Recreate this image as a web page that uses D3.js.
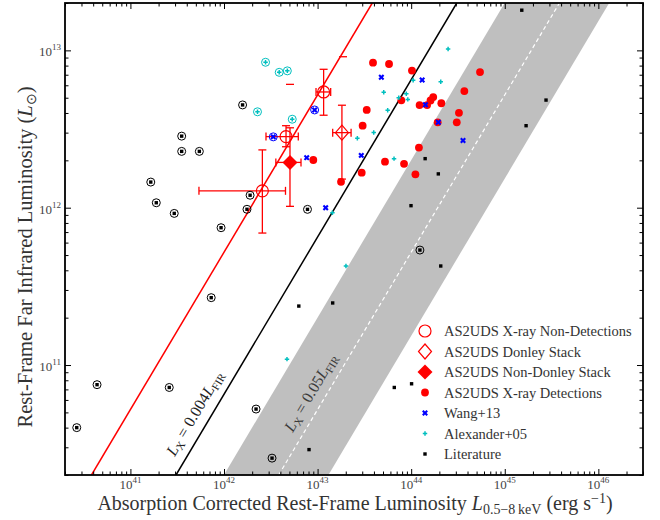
<!DOCTYPE html>
<html>
<head>
<meta charset="utf-8">
<script src="https://cdn.jsdelivr.net/npm/d3@7"></script>
<style>
  body { margin: 0; background: #fff; }
</style>
</head>
<body>
<div id="chart"></div>
<script>
// axis limits and ticks
const xDomain = [2e40, 3e46];
const yDomain = [2e10, 2e13];
const xTicks = [1e41, 1e42, 1e43, 1e44, 1e45, 1e46];
const yTicks = [1e11, 1e12, 1e13];

// L_X / L_FIR relations (L_FIR in solar units)
const LSUN = 3.839e33;
const ratioRed = 0.0005;
const ratioBlack = 0.004;
const ratioDashed = 0.05;
const bandRatios = [0.013, 0.17];

// AS2UDS stacks: [Lx, Lfir, xlo, xhi, ylo, yhi]
const nonDetections = [
  [2.57e42, 1.28e12, 5.4e41, 4.54e42, 6.9e11, 2.33e12],
  [4.6e42, 2.83e12, 2.81e42, 6.22e42, 2.44e12, 3.32e12],
  [1.16e43, 5.44e12, 9.62e42, 1.38e43, 3.87e12, 7.58e12]
];
const donleyStack = [[1.82e43, 3.0e12, 1.45e43, 2.28e43, 1.52e12, 4.48e12]];
const nonDonleyStack = [[5.07e42, 1.94e12, 3.58e42, 6.65e42, 1.02e12, 3.22e12]];
const dashMarks = [[5.07e42, 6.08e12], [1.87e43, 9.11e12]];

// AS2UDS X-ray detections
const detections = [
  [3.91e43, 8.35e12], [5.8e43, 8.19e12], [1.02e44, 7.44e12], [5.44e44, 7.28e12],
  [3.7e44, 5.51e12], [7.85e43, 4.81e12], [1.23e44, 4.49e12], [1.48e44, 4.49e12],
  [1.61e44, 4.8e12], [1.72e44, 5.05e12], [2.1e44, 4.61e12], [3.35e43, 4.18e12],
  [3.03e43, 3.32e12], [3.24e44, 4.01e12], [3.07e44, 3.49e12], [1.92e44, 3.49e12],
  [1.21e44, 2.41e12], [5.25e43, 1.96e12], [8.39e43, 1.9e12], [1.11e44, 1.63e12],
  [2.96e43, 1.67e12], [1.78e43, 1.46e12], [9.0e42, 2.01e12]
];

// Wang+13
const wang = [
  [4.8e43, 6.74e12], [1.31e44, 6.48e12], [1.42e44, 4.51e12], [1.95e44, 3.49e12],
  [3.58e44, 2.67e12], [2.93e43, 2.15e12], [7.65e42, 2.08e12], [1.22e43, 1.0e12],
  [9.3e42, 4.18e12], [3.36e42, 2.82e12]
];
const wangCircled = [[9.3e42, 4.18e12], [3.36e42, 2.82e12]];

// Alexander+05
const alexander = [
  [2.48e44, 1.02e13], [1.05e44, 6.45e12], [2.07e44, 6.32e12], [5.09e43, 5.41e12],
  [8.87e43, 5.3e12], [7.36e43, 5.0e12], [9.2e43, 4.88e12], [5.61e43, 4.16e12],
  [3.98e43, 3.01e12], [2.66e43, 2.76e12], [6.56e43, 2.05e12], [1.44e43, 9.29e11],
  [2.01e43, 4.26e11], [4.71e42, 1.09e11],
  [2.78e42, 8.4e12], [3.89e42, 7.25e12], [4.75e42, 7.41e12], [2.28e42, 4.07e12],
  [5.36e42, 3.65e12]
];
const alexanderCircled = [
  [2.78e42, 8.4e12], [3.89e42, 7.25e12], [4.75e42, 7.41e12], [2.28e42, 4.07e12],
  [5.36e42, 3.65e12]
];

// Literature
const literature = [
  [1.52e45, 1.8e13], [2.76e45, 4.83e12], [1.69e45, 3.32e12], [1.41e44, 2.05e12],
  [1.95e44, 1.64e12], [9.96e43, 1.03e12], [2.07e44, 4.26e11], [1.45e43, 2.48e11],
  [6.3e42, 2.37e11], [6.6e43, 7.2e10], [1.01e44, 7.6e10], [8.1e42, 2.9e10],
  [2.67e40, 4.0e10], [4.4e40, 7.5e10], [2.6e41, 7.2e10], [7.3e41, 2.68e11],
  [2.2e42, 5.25e10], [3.26e42, 2.56e10], [1.24e44, 5.38e11], [7.8e42, 9.76e11],
  [3.53e41, 2.85e12], [3.53e41, 2.28e12], [5.45e41, 2.28e12], [1.65e41, 1.455e12],
  [1.89e41, 1.075e12], [2.94e41, 9.2e11], [9.3e41, 7.46e11], [1.58e42, 4.5e12],
  [1.9e42, 1.2e12], [1.76e42, 9.77e11]
];
const literatureCircled = [
  [2.67e40, 4.0e10], [4.4e40, 7.5e10], [2.6e41, 7.2e10], [7.3e41, 2.68e11],
  [2.2e42, 5.25e10], [3.26e42, 2.56e10], [1.24e44, 5.38e11], [7.8e42, 9.76e11],
  [3.53e41, 2.85e12], [3.53e41, 2.28e12], [5.45e41, 2.28e12], [1.65e41, 1.455e12],
  [1.89e41, 1.075e12], [2.94e41, 9.2e11], [9.3e41, 7.46e11], [1.58e42, 4.5e12],
  [1.9e42, 1.2e12], [1.76e42, 9.77e11]
];

const legendLabels = [
  "AS2UDS X-ray Non-Detections", "AS2UDS Donley Stack", "AS2UDS Non-Donley Stack",
  "AS2UDS X-ray Detections", "Wang+13", "Alexander+05", "Literature"
];

const RED = "#ff0000", BLUE = "#0000ff", CYAN = "#00bfbf";
const width = 660, height = 520;
const mLeft = 65, mRight = 643, mTop = 3, mBottom = 475;

const svg = d3.select("#chart").append("svg")
  .attr("width", width).attr("height", height)
  .attr("font-family", "'Liberation Serif', 'Times New Roman', serif");

const x = d3.scaleLog().domain(xDomain).range([mLeft, mRight]);
const y = d3.scaleLog().domain(yDomain).range([mBottom, mTop]);

svg.append("defs").append("clipPath").attr("id", "plotclip")
  .append("rect").attr("x", mLeft).attr("y", mTop)
  .attr("width", mRight - mLeft).attr("height", mBottom - mTop);

const plot = svg.append("g").attr("clip-path", "url(#plotclip)");

const relation = r => yDomain.map(v => [r * v * LSUN, v]);
const line = d3.line().x(d => x(d[0])).y(d => y(d[1]));

// gray band
const bandPts = relation(bandRatios[0]).concat(relation(bandRatios[1]).reverse());
plot.append("path").attr("d", line(bandPts) + "Z").attr("fill", "#bfbfbf");

plot.append("path").attr("d", line(relation(ratioDashed)))
  .attr("fill", "none").attr("stroke", "#fff").attr("stroke-width", 1.2)
  .attr("stroke-dasharray", "4,3");
plot.append("path").attr("d", line(relation(ratioBlack)))
  .attr("fill", "none").attr("stroke", "#000").attr("stroke-width", 1.5);
plot.append("path").attr("d", line(relation(ratioRed)))
  .attr("fill", "none").attr("stroke", RED).attr("stroke-width", 1.5);

// rotated relation labels
const slopeAngle = Math.atan2(y(1e12) - y(1e11), x(1e12) - x(1e11)) * 180 / Math.PI;
function relationLabel(r, lfir, dx, num, color) {
  const px = x(r * lfir * LSUN) + dx, py = y(lfir);
  const t = svg.append("text")
    .attr("transform", `translate(${px},${py}) rotate(${slopeAngle})`)
    .attr("font-size", 16).attr("fill", color);
  t.append("tspan").attr("font-style", "italic").text("L");
  t.append("tspan").attr("font-size", 11).attr("dy", 3).text("X");
  t.append("tspan").attr("dy", -3).text(" = " + num);
  t.append("tspan").attr("font-style", "italic").text("L");
  t.append("tspan").attr("font-size", 11).attr("dy", 3).text("FIR");
}
relationLabel(ratioBlack, 2.6e10, -12, "0.004", "#222");
relationLabel(ratioDashed, 3.7e10, -11, "0.05", "#3a3a3a");

// error bars
const cap = 4;
function errorBars(data) {
  const g = plot.append("g").attr("stroke", RED).attr("stroke-width", 1.3).attr("fill", "none");
  data.forEach(d => {
    const cx = x(d[0]), cy = y(d[1]);
    const x0 = x(d[2]), x1 = x(d[3]), y0 = y(d[4]), y1 = y(d[5]);
    g.append("line").attr("x1", x0).attr("x2", x1).attr("y1", cy).attr("y2", cy);
    g.append("line").attr("x1", x0).attr("x2", x0).attr("y1", cy - cap).attr("y2", cy + cap);
    g.append("line").attr("x1", x1).attr("x2", x1).attr("y1", cy - cap).attr("y2", cy + cap);
    g.append("line").attr("x1", cx).attr("x2", cx).attr("y1", y0).attr("y2", y1);
    g.append("line").attr("x1", cx - cap).attr("x2", cx + cap).attr("y1", y0).attr("y2", y0);
    g.append("line").attr("x1", cx - cap).attr("x2", cx + cap).attr("y1", y1).attr("y2", y1);
  });
}
errorBars(nonDetections);
errorBars(donleyStack);
errorBars(nonDonleyStack);

plot.append("g").selectAll("line").data(dashMarks).join("line")
  .attr("x1", d => x(d[0]) - 4).attr("x2", d => x(d[0]) + 4)
  .attr("y1", d => y(d[1])).attr("y2", d => y(d[1]))
  .attr("stroke", RED).attr("stroke-width", 1.3);

// marker shapes
const diamond = (w, h) => `M0,${-h}L${w},0L0,${h}L${-w},0Z`;
const shapes = {
  openCircle: g => g.append("circle").attr("r", 6).attr("fill", "none").attr("stroke", RED).attr("stroke-width", 1.2),
  openDiamond: g => g.append("path").attr("d", diamond(6.5, 7.5)).attr("fill", "none").attr("stroke", RED).attr("stroke-width", 1.2),
  fullDiamond: g => g.append("path").attr("d", diamond(7.5, 7.5)).attr("fill", RED),
  dot: g => g.append("circle").attr("r", 3.9).attr("fill", RED),
  wang: g => g.append("path").attr("d", d3.symbol(d3.symbolCross, 22)()).attr("transform", "rotate(45)").attr("fill", BLUE),
  alex: g => g.append("path").attr("d", d3.symbol(d3.symbolCross, 11)()).attr("fill", CYAN),
  lit: g => g.append("rect").attr("x", -1.7).attr("y", -1.7).attr("width", 3.4).attr("height", 3.4).attr("fill", "#000")
};

function scatter(data, shape) {
  plot.append("g").selectAll("g").data(data).join("g")
    .attr("transform", d => `translate(${x(d[0])},${y(d[1])})`)
    .each(function() { shapes[shape](d3.select(this)); });
}
function rings(data, color) {
  plot.append("g").selectAll("circle").data(data).join("circle")
    .attr("cx", d => x(d[0])).attr("cy", d => y(d[1])).attr("r", 4)
    .attr("fill", "none").attr("stroke", color).attr("stroke-width", 1);
}

scatter(nonDetections, "openCircle");
scatter(donleyStack, "openDiamond");
scatter(nonDonleyStack, "fullDiamond");
scatter(detections, "dot");
scatter(wang, "wang");
scatter(alexander, "alex");
scatter(literature, "lit");
rings(wangCircled, BLUE);
rings(alexanderCircled, CYAN);
rings(literatureCircled, "#000");

// axes: inward ticks on all four sides
function minorTicks(domain) {
  const out = [];
  const lo = Math.floor(Math.log10(domain[0])), hi = Math.ceil(Math.log10(domain[1]));
  for (let e = lo; e < hi; e++) {
    for (let k = 2; k <= 9; k++) {
      const v = k * Math.pow(10, e);
      if (v >= domain[0] && v <= domain[1]) out.push(v);
    }
  }
  return out;
}
const xMinor = minorTicks(xDomain), yMinor = minorTicks(yDomain);

function axisGroup(axis, tx, ty) {
  const g = svg.append("g").attr("transform", `translate(${tx},${ty})`).call(axis);
  g.select(".domain").remove();
  g.selectAll("line").attr("stroke", "#000").attr("stroke-width", 1);
  g.selectAll("text").remove();
}
axisGroup(d3.axisBottom(x).tickValues(xTicks).tickSize(-6), 0, mBottom);
axisGroup(d3.axisBottom(x).tickValues(xMinor).tickSize(-3.5), 0, mBottom);
axisGroup(d3.axisTop(x).tickValues(xTicks).tickSize(-6), 0, mTop);
axisGroup(d3.axisTop(x).tickValues(xMinor).tickSize(-3.5), 0, mTop);
axisGroup(d3.axisLeft(y).tickValues(yTicks).tickSize(-6), mLeft, 0);
axisGroup(d3.axisLeft(y).tickValues(yMinor).tickSize(-3.5), mLeft, 0);
axisGroup(d3.axisRight(y).tickValues(yTicks).tickSize(-6), mRight, 0);
axisGroup(d3.axisRight(y).tickValues(yMinor).tickSize(-3.5), mRight, 0);

svg.append("rect").attr("x", mLeft).attr("y", mTop)
  .attr("width", mRight - mLeft).attr("height", mBottom - mTop)
  .attr("fill", "none").attr("stroke", "#000").attr("stroke-width", 1.8);

// tick labels
function powLabel(sel, v) {
  sel.append("tspan").text("10");
  sel.append("tspan").attr("font-size", 9).attr("dy", -6).text(Math.round(Math.log10(v)));
}
svg.append("g").selectAll("text").data(xTicks).join("text")
  .attr("x", d => x(d)).attr("y", 489).attr("text-anchor", "middle")
  .attr("font-size", 13).attr("fill", "#444")
  .each(function(d) { powLabel(d3.select(this), d); });
svg.append("g").selectAll("text").data(yTicks).join("text")
  .attr("x", mLeft - 4).attr("y", d => y(d) + 6).attr("text-anchor", "end")
  .attr("font-size", 13).attr("fill", "#444")
  .each(function(d) { powLabel(d3.select(this), d); });

// axis titles
const xt = svg.append("text").attr("x", (mLeft + mRight) / 2 + 1).attr("y", 510)
  .attr("text-anchor", "middle").attr("font-size", 20).attr("fill", "#333");
xt.append("tspan").text("Absorption Corrected Rest-Frame Luminosity ");
xt.append("tspan").attr("font-style", "italic").text("L");
xt.append("tspan").attr("font-size", 14).attr("dy", 4).text("0.5\u22128\u2009keV");
xt.append("tspan").attr("dy", -4).text(" (erg s");
xt.append("tspan").attr("font-size", 14).attr("dy", -7).text("\u22121");
xt.append("tspan").attr("dy", 7).text(")");

const yt = svg.append("text").attr("transform", `translate(32,257) rotate(-90)`)
  .attr("text-anchor", "middle").attr("font-size", 20.5).attr("fill", "#333");
yt.append("tspan").text("Rest-Frame Far Infrared Luminosity (");
yt.append("tspan").attr("font-style", "italic").text("L");
yt.append("tspan").attr("font-size", 14).attr("dy", 4).text("\u2299");
yt.append("tspan").attr("dy", -4).text(")");

// legend
const legendShapes = ["openCircle", "openDiamond", "fullDiamond", "dot", "wang", "alex", "lit"];
const legend = svg.append("g");
legendLabels.forEach((label, i) => {
  const ly = 331 + i * 20.5;
  shapes[legendShapes[i]](legend.append("g").attr("transform", `translate(425,${ly})`));
  legend.append("text").attr("x", 444).attr("y", ly + 5)
    .attr("font-size", 14.5).attr("fill", "#333").text(label);
});
</script>
</body>
</html>
